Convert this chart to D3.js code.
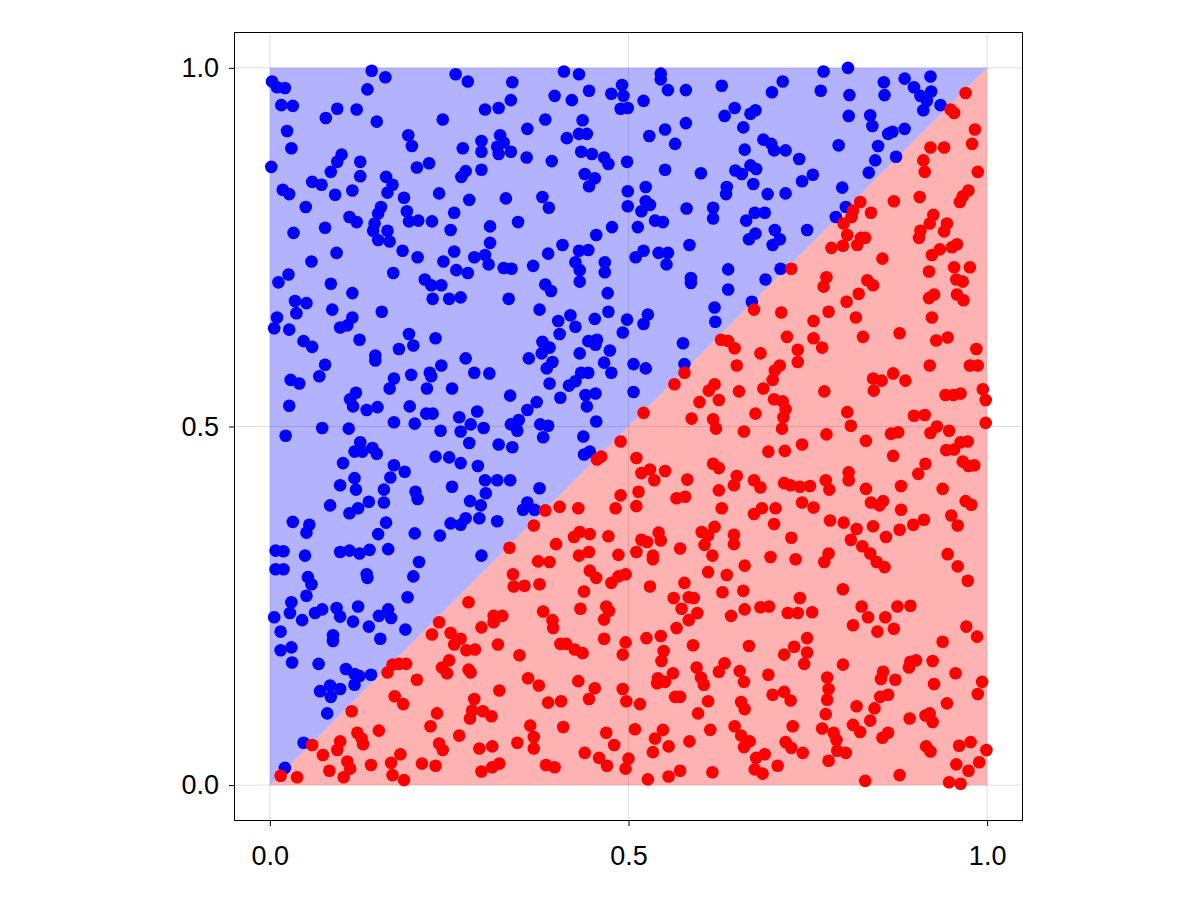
<!DOCTYPE html>
<html><head><meta charset="utf-8">
<script src="https://cdn.jsdelivr.net/npm/d3@7"></script>
<style>body{margin:0;background:#fff} text{font-family:"Liberation Sans",Arial,sans-serif}</style>
</head><body><svg id="chart" width="1200" height="900"></svg>
<script>
const tickValues=[0,0.5,1];
const tickLabels=["0.0","0.5","1.0"];
const upperRegion=[[0,0],[0,1],[1,1]];
const lowerRegion=[[0,0],[1,0],[1,1]];
const bluePoints=[
[0.003,0.981],[0.010,0.973],[0.021,0.972],[0.142,0.996],[0.161,0.987],[0.136,0.970],[0.016,0.948],[0.032,0.947],[0.094,0.943],[0.121,0.942],[0.078,0.930],[0.149,0.925],[0.024,0.912],[0.193,0.906],[0.198,0.891],[0.030,0.888],[0.100,0.879],[0.094,0.869],[0.126,0.869],[0.002,0.862],[0.085,0.855],[0.205,0.861],[0.222,0.867],[0.126,0.849],[0.162,0.848],[0.171,0.837],[0.059,0.841],[0.072,0.837],[0.018,0.830],[0.027,0.824],[0.091,0.823],[0.115,0.829],[0.164,0.826],[0.187,0.819],[0.155,0.806],[0.151,0.797],[0.050,0.806],[0.191,0.800],[0.194,0.786],[0.207,0.787],[0.226,0.786],[0.111,0.792],[0.121,0.785],[0.146,0.783],[0.144,0.773],[0.164,0.773],[0.151,0.760],[0.167,0.758],[0.033,0.770],[0.077,0.777],[0.093,0.742],[0.185,0.745],[0.206,0.736],[0.058,0.730],[0.172,0.714],[0.026,0.712],[0.012,0.701],[0.085,0.699],[0.115,0.686],[0.216,0.705],[0.225,0.697],[0.239,0.697],[0.227,0.678],[0.035,0.675],[0.051,0.672],[0.241,0.928],[0.236,0.825],[0.242,0.730],
[0.259,0.991],[0.276,0.981],[0.338,0.980],[0.410,0.995],[0.431,0.991],[0.445,0.968],[0.397,0.961],[0.421,0.955],[0.336,0.955],[0.300,0.942],[0.319,0.944],[0.476,0.964],[0.491,0.976],[0.493,0.961],[0.489,0.943],[0.499,0.944],[0.384,0.928],[0.436,0.927],[0.359,0.915],[0.414,0.902],[0.431,0.908],[0.442,0.908],[0.269,0.888],[0.295,0.898],[0.321,0.906],[0.326,0.896],[0.317,0.890],[0.295,0.883],[0.319,0.880],[0.336,0.883],[0.358,0.875],[0.393,0.870],[0.434,0.883],[0.449,0.880],[0.466,0.875],[0.472,0.866],[0.498,0.869],[0.273,0.856],[0.267,0.848],[0.295,0.858],[0.439,0.852],[0.453,0.846],[0.445,0.835],[0.329,0.818],[0.278,0.816],[0.380,0.820],[0.389,0.805],[0.499,0.828],[0.499,0.807],[0.257,0.798],[0.252,0.774],[0.307,0.779],[0.346,0.785],[0.307,0.756],[0.477,0.778],[0.455,0.767],[0.408,0.753],[0.257,0.744],[0.285,0.736],[0.300,0.739],[0.305,0.726],[0.326,0.721],[0.337,0.720],[0.367,0.724],[0.388,0.741],[0.431,0.745],[0.444,0.746],[0.426,0.729],[0.432,0.718],[0.467,0.729],[0.467,0.715],[0.432,0.702],[0.260,0.718],[0.276,0.714],[0.384,0.698],[0.392,0.689],[0.471,0.686],[0.266,0.680],[0.333,0.678],[0.250,0.678],
[0.545,0.992],[0.545,0.984],[0.555,0.969],[0.580,0.969],[0.630,0.975],[0.715,0.981],[0.700,0.966],[0.521,0.954],[0.648,0.944],[0.634,0.933],[0.670,0.936],[0.677,0.941],[0.580,0.923],[0.551,0.914],[0.529,0.905],[0.660,0.917],[0.565,0.894],[0.688,0.900],[0.699,0.894],[0.703,0.885],[0.719,0.885],[0.662,0.886],[0.738,0.873],[0.551,0.858],[0.601,0.853],[0.649,0.857],[0.658,0.852],[0.670,0.864],[0.678,0.859],[0.674,0.838],[0.757,0.851],[0.742,0.842],[0.524,0.834],[0.637,0.834],[0.636,0.824],[0.694,0.824],[0.719,0.825],[0.524,0.814],[0.530,0.809],[0.518,0.800],[0.581,0.804],[0.618,0.805],[0.618,0.790],[0.676,0.798],[0.690,0.798],[0.664,0.787],[0.537,0.787],[0.548,0.785],[0.513,0.778],[0.704,0.774],[0.711,0.761],[0.701,0.753],[0.677,0.769],[0.668,0.761],[0.749,0.774],[0.585,0.753],[0.521,0.745],[0.510,0.736],[0.542,0.742],[0.555,0.742],[0.553,0.726],[0.639,0.719],[0.587,0.707],[0.587,0.700],[0.639,0.691],[0.691,0.705],[0.712,0.720],[0.672,0.674],
[0.772,0.995],[0.806,1.000],[0.768,0.968],[0.808,0.962],[0.856,0.980],[0.857,0.962],[0.885,0.985],[0.898,0.973],[0.921,0.988],[0.907,0.961],[0.922,0.967],[0.916,0.954],[0.911,0.941],[0.935,0.948],[0.807,0.933],[0.837,0.934],[0.840,0.919],[0.862,0.908],[0.868,0.911],[0.885,0.915],[0.793,0.892],[0.848,0.891],[0.873,0.876],[0.844,0.871],[0.835,0.854],[0.798,0.833],[0.803,0.806],[0.789,0.792],
[0.037,0.658],[0.087,0.663],[0.156,0.660],[0.010,0.652],[0.006,0.637],[0.027,0.635],[0.098,0.638],[0.108,0.641],[0.115,0.652],[0.125,0.621],[0.047,0.619],[0.059,0.611],[0.194,0.629],[0.200,0.613],[0.180,0.608],[0.231,0.623],[0.147,0.599],[0.147,0.592],[0.077,0.586],[0.069,0.570],[0.029,0.565],[0.041,0.560],[0.173,0.567],[0.167,0.553],[0.197,0.572],[0.223,0.575],[0.225,0.570],[0.219,0.553],[0.239,0.585],[0.120,0.547],[0.112,0.538],[0.116,0.528],[0.135,0.523],[0.150,0.527],[0.027,0.529],[0.195,0.528],[0.218,0.518],[0.227,0.518],[0.173,0.506],[0.202,0.504],[0.073,0.498],[0.110,0.497],[0.022,0.487],[0.238,0.494],[0.126,0.478],[0.118,0.465],[0.129,0.465],[0.143,0.470],[0.149,0.462],[0.102,0.449],[0.231,0.458],[0.173,0.446],[0.188,0.437],[0.168,0.429],[0.118,0.428],[0.120,0.412],[0.098,0.418],[0.159,0.412],[0.203,0.409],[0.206,0.399],[0.159,0.394],[0.138,0.395],[0.084,0.390],[0.111,0.379],[0.123,0.386],[0.032,0.367],[0.055,0.363],[0.051,0.352],[0.162,0.366],[0.151,0.350],[0.202,0.351],[0.237,0.348],
[0.376,0.663],[0.402,0.647],[0.419,0.655],[0.426,0.639],[0.453,0.650],[0.472,0.660],[0.498,0.649],[0.492,0.631],[0.404,0.629],[0.380,0.618],[0.390,0.610],[0.379,0.602],[0.444,0.619],[0.456,0.621],[0.454,0.614],[0.474,0.606],[0.432,0.602],[0.273,0.595],[0.361,0.595],[0.394,0.590],[0.386,0.581],[0.466,0.589],[0.476,0.575],[0.285,0.575],[0.306,0.574],[0.434,0.575],[0.444,0.575],[0.390,0.560],[0.417,0.557],[0.426,0.563],[0.254,0.553],[0.335,0.543],[0.372,0.534],[0.359,0.523],[0.405,0.540],[0.440,0.544],[0.454,0.546],[0.442,0.528],[0.264,0.513],[0.289,0.521],[0.280,0.503],[0.266,0.493],[0.298,0.498],[0.336,0.503],[0.347,0.509],[0.345,0.494],[0.377,0.503],[0.388,0.501],[0.381,0.485],[0.455,0.507],[0.278,0.477],[0.319,0.475],[0.338,0.471],[0.437,0.486],[0.250,0.457],[0.266,0.449],[0.290,0.445],[0.438,0.461],[0.446,0.465],[0.300,0.425],[0.317,0.425],[0.335,0.425],[0.254,0.416],[0.376,0.414],[0.301,0.407],[0.279,0.396],[0.294,0.390],[0.359,0.394],[0.353,0.384],[0.369,0.384],[0.273,0.372],[0.266,0.363],[0.252,0.365],[0.292,0.372],[0.317,0.368],
[0.527,0.656],[0.521,0.643],[0.620,0.666],[0.621,0.646],[0.576,0.616],[0.507,0.587],[0.524,0.581],[0.578,0.587],[0.507,0.548],
[0.008,0.327],[0.019,0.326],[0.049,0.320],[0.098,0.325],[0.111,0.327],[0.125,0.323],[0.139,0.328],[0.165,0.329],[0.008,0.301],[0.019,0.301],[0.208,0.311],[0.200,0.291],[0.053,0.290],[0.058,0.280],[0.135,0.294],[0.136,0.289],[0.051,0.264],[0.192,0.262],[0.030,0.255],[0.028,0.240],[0.006,0.234],[0.045,0.230],[0.063,0.240],[0.073,0.245],[0.093,0.247],[0.098,0.235],[0.123,0.249],[0.116,0.228],[0.138,0.221],[0.152,0.236],[0.165,0.245],[0.169,0.233],[0.015,0.214],[0.088,0.209],[0.088,0.201],[0.154,0.204],[0.189,0.217],[0.015,0.188],[0.030,0.192],[0.031,0.171],[0.068,0.169],[0.106,0.162],[0.118,0.155],[0.125,0.152],[0.141,0.154],[0.118,0.140],[0.070,0.131],[0.084,0.139],[0.098,0.134],[0.085,0.123],[0.080,0.100],[0.047,0.059],[0.021,0.024],
[0.295,0.320]
];
const redPoints=[
[0.727,0.720],
[0.970,0.965],[0.949,0.942],[0.954,0.937],[0.983,0.914],[0.979,0.894],[0.921,0.889],[0.940,0.889],[0.911,0.871],[0.913,0.855],[0.987,0.855],[0.974,0.829],[0.966,0.821],[0.962,0.813],[0.906,0.820],[0.870,0.814],[0.823,0.813],[0.813,0.801],[0.811,0.792],[0.838,0.798],[0.800,0.783],[0.805,0.767],[0.824,0.763],[0.830,0.763],[0.819,0.753],[0.799,0.752],[0.783,0.749],[0.854,0.734],[0.925,0.795],[0.920,0.783],[0.944,0.783],[0.940,0.772],[0.907,0.773],[0.905,0.763],[0.958,0.754],[0.951,0.750],[0.934,0.747],[0.923,0.739],[0.919,0.716],[0.954,0.722],[0.976,0.722],[0.776,0.708],[0.772,0.695],[0.833,0.704],[0.841,0.697],[0.821,0.685],[0.804,0.674],[0.957,0.705],[0.966,0.702],[0.958,0.684],[0.967,0.676],[0.926,0.684],[0.919,0.679],
[0.489,0.479],[0.462,0.458],[0.456,0.454],[0.489,0.404],[0.482,0.386],[0.404,0.388],[0.430,0.386],[0.384,0.383],[0.368,0.362],[0.432,0.353],[0.424,0.346],[0.446,0.350],[0.472,0.347],[0.399,0.336],[0.334,0.331],
[0.675,0.663],[0.713,0.659],[0.758,0.647],[0.629,0.621],[0.639,0.619],[0.648,0.609],[0.721,0.625],[0.684,0.602],[0.736,0.607],[0.736,0.590],[0.758,0.623],[0.651,0.585],[0.711,0.585],[0.704,0.578],[0.701,0.565],[0.578,0.575],[0.564,0.559],[0.620,0.559],[0.612,0.550],[0.626,0.537],[0.654,0.549],[0.688,0.553],[0.703,0.538],[0.715,0.535],[0.719,0.524],[0.716,0.513],[0.714,0.497],[0.599,0.534],[0.521,0.519],[0.588,0.511],[0.677,0.518],[0.618,0.510],[0.622,0.497],[0.661,0.493],[0.695,0.465],[0.718,0.466],[0.742,0.475],[0.511,0.456],[0.518,0.435],[0.530,0.440],[0.536,0.425],[0.551,0.438],[0.514,0.409],[0.511,0.389],[0.582,0.426],[0.618,0.448],[0.626,0.442],[0.651,0.431],[0.647,0.418],[0.626,0.411],[0.675,0.425],[0.684,0.415],[0.717,0.421],[0.726,0.418],[0.739,0.416],[0.753,0.417],[0.567,0.400],[0.579,0.402],[0.630,0.386],[0.686,0.386],[0.675,0.378],[0.705,0.386],[0.742,0.394],[0.758,0.387],[0.703,0.364],[0.620,0.360],[0.602,0.353],[0.611,0.348],[0.647,0.349],[0.647,0.336],[0.542,0.352],[0.545,0.341],[0.518,0.342],[0.526,0.339],[0.572,0.330],[0.727,0.345],[0.606,0.335],
[0.779,0.660],[0.817,0.652],[0.827,0.625],[0.878,0.630],[0.923,0.652],[0.929,0.620],[0.945,0.624],[0.985,0.608],[0.976,0.585],[0.987,0.585],[0.920,0.585],[0.770,0.610],[0.841,0.567],[0.853,0.564],[0.869,0.574],[0.886,0.564],[0.842,0.550],[0.773,0.549],[0.942,0.544],[0.953,0.544],[0.963,0.546],[0.994,0.552],[0.998,0.537],[0.805,0.520],[0.810,0.501],[0.898,0.515],[0.913,0.516],[0.776,0.489],[0.831,0.480],[0.866,0.490],[0.876,0.492],[0.921,0.491],[0.930,0.500],[0.947,0.494],[0.998,0.505],[0.943,0.467],[0.954,0.468],[0.963,0.478],[0.973,0.479],[0.869,0.459],[0.966,0.451],[0.974,0.445],[0.982,0.446],[0.914,0.448],[0.904,0.434],[0.807,0.436],[0.807,0.425],[0.775,0.425],[0.780,0.412],[0.831,0.413],[0.880,0.417],[0.938,0.413],[0.838,0.394],[0.850,0.390],[0.855,0.396],[0.880,0.384],[0.970,0.396],[0.978,0.391],[0.950,0.376],[0.959,0.362],[0.781,0.369],[0.800,0.366],[0.818,0.357],[0.810,0.342],[0.841,0.361],[0.859,0.346],[0.878,0.356],[0.897,0.363],[0.912,0.370],[0.826,0.333],
[0.236,0.227],[0.226,0.210],[0.171,0.168],[0.180,0.169],[0.190,0.169],[0.164,0.157],[0.205,0.147],[0.240,0.164],[0.174,0.124],[0.186,0.113],[0.233,0.100],[0.224,0.082],[0.114,0.103],[0.152,0.076],[0.122,0.073],[0.128,0.065],[0.130,0.057],[0.098,0.061],[0.094,0.049],[0.059,0.056],[0.074,0.042],[0.108,0.033],[0.112,0.023],[0.083,0.020],[0.103,0.011],[0.141,0.028],[0.169,0.031],[0.182,0.043],[0.171,0.014],[0.187,0.007],[0.212,0.030],[0.231,0.027],[0.236,0.058],[0.241,0.049],[0.015,0.013],[0.038,0.011],
[0.374,0.312],[0.390,0.311],[0.339,0.294],[0.340,0.277],[0.355,0.278],[0.376,0.280],[0.277,0.255],[0.312,0.236],[0.324,0.236],[0.312,0.227],[0.295,0.220],[0.381,0.242],[0.394,0.230],[0.395,0.219],[0.252,0.212],[0.266,0.204],[0.257,0.196],[0.274,0.188],[0.286,0.189],[0.318,0.196],[0.348,0.181],[0.405,0.197],[0.413,0.197],[0.425,0.189],[0.436,0.184],[0.250,0.174],[0.247,0.156],[0.277,0.161],[0.280,0.157],[0.320,0.132],[0.360,0.149],[0.375,0.139],[0.388,0.115],[0.406,0.117],[0.430,0.145],[0.453,0.135],[0.445,0.120],[0.285,0.120],[0.282,0.104],[0.297,0.103],[0.309,0.096],[0.279,0.093],[0.363,0.083],[0.368,0.067],[0.368,0.051],[0.409,0.081],[0.264,0.069],[0.345,0.059],[0.292,0.051],[0.310,0.054],[0.295,0.019],[0.310,0.025],[0.320,0.030],[0.385,0.028],[0.397,0.025],[0.439,0.045],[0.459,0.038],[0.470,0.027],[0.469,0.073],[0.480,0.056],[0.431,0.320],[0.445,0.325],[0.486,0.321],[0.446,0.299],[0.455,0.289],[0.476,0.282],[0.486,0.291],[0.496,0.294],[0.438,0.270],[0.433,0.246],[0.469,0.249],[0.473,0.243],[0.466,0.231],[0.466,0.204],[0.496,0.199],[0.492,0.182],[0.492,0.134],[0.497,0.117],[0.500,0.037],[0.496,0.023],
[0.511,0.325],[0.534,0.320],[0.534,0.315],[0.617,0.320],[0.662,0.306],[0.698,0.318],[0.733,0.315],[0.611,0.297],[0.637,0.293],[0.530,0.277],[0.578,0.282],[0.563,0.261],[0.584,0.262],[0.591,0.261],[0.574,0.246],[0.584,0.230],[0.596,0.240],[0.567,0.219],[0.631,0.269],[0.660,0.271],[0.643,0.236],[0.662,0.245],[0.684,0.248],[0.696,0.249],[0.722,0.240],[0.736,0.240],[0.756,0.241],[0.739,0.261],[0.525,0.205],[0.545,0.208],[0.590,0.195],[0.668,0.194],[0.749,0.205],[0.731,0.193],[0.717,0.182],[0.749,0.185],[0.745,0.169],[0.549,0.187],[0.546,0.173],[0.562,0.156],[0.541,0.149],[0.540,0.142],[0.551,0.144],[0.595,0.164],[0.601,0.150],[0.605,0.140],[0.634,0.170],[0.626,0.158],[0.655,0.159],[0.661,0.144],[0.695,0.154],[0.701,0.126],[0.717,0.130],[0.726,0.118],[0.565,0.123],[0.572,0.123],[0.611,0.117],[0.657,0.116],[0.662,0.106],[0.597,0.100],[0.516,0.113],[0.509,0.078],[0.548,0.077],[0.537,0.065],[0.556,0.054],[0.534,0.046],[0.585,0.061],[0.614,0.077],[0.648,0.082],[0.657,0.069],[0.669,0.061],[0.661,0.053],[0.719,0.060],[0.727,0.052],[0.743,0.045],[0.729,0.082],[0.678,0.038],[0.690,0.043],[0.676,0.022],[0.687,0.016],[0.708,0.027],[0.572,0.020],[0.556,0.012],[0.527,0.008],[0.617,0.018],
[0.779,0.323],[0.773,0.311],[0.837,0.323],[0.846,0.311],[0.857,0.304],[0.945,0.322],[0.959,0.305],[0.973,0.285],[0.799,0.273],[0.825,0.249],[0.834,0.234],[0.813,0.223],[0.847,0.214],[0.858,0.234],[0.870,0.218],[0.875,0.249],[0.893,0.250],[0.971,0.221],[0.986,0.207],[0.938,0.200],[0.799,0.168],[0.855,0.158],[0.852,0.148],[0.872,0.147],[0.891,0.164],[0.893,0.172],[0.901,0.174],[0.924,0.173],[0.956,0.156],[0.926,0.141],[0.993,0.144],[0.987,0.127],[0.777,0.150],[0.779,0.134],[0.777,0.119],[0.775,0.099],[0.818,0.110],[0.843,0.107],[0.837,0.090],[0.851,0.123],[0.862,0.126],[0.813,0.084],[0.823,0.074],[0.770,0.079],[0.786,0.073],[0.790,0.063],[0.791,0.048],[0.803,0.045],[0.779,0.034],[0.854,0.066],[0.862,0.073],[0.892,0.093],[0.914,0.097],[0.920,0.100],[0.924,0.088],[0.944,0.114],[0.915,0.054],[0.921,0.047],[0.961,0.055],[0.977,0.060],[0.999,0.049],[0.989,0.032],[0.974,0.020],[0.957,0.029],[0.830,0.006],[0.878,0.014],[0.947,0.004],[0.963,0.002]
];

const svg=d3.select("#chart");
const plotLeft=234, plotRight=1023, plotTop=32, plotBottom=821;
const x=d3.scaleLinear().domain([-0.05,1.05]).range([plotLeft,plotRight]);
const y=d3.scaleLinear().domain([-0.05,1.05]).range([plotBottom,plotTop]);

// grid
const grid=svg.append("g");
grid.selectAll("line.gx").data(tickValues).join("line")
  .attr("x1",d=>x(d)).attr("x2",d=>x(d)).attr("y1",plotTop).attr("y2",plotBottom)
  .attr("stroke","rgba(0,0,0,0.12)").attr("stroke-width",1);
grid.selectAll("line.gy").data(tickValues).join("line")
  .attr("y1",d=>y(d)).attr("y2",d=>y(d)).attr("x1",plotLeft).attr("x2",plotRight)
  .attr("stroke","rgba(0,0,0,0.12)").attr("stroke-width",1);

// regions
const line=d3.line().x(d=>x(d[0])).y(d=>y(d[1]));
svg.append("path").attr("d",line(upperRegion)+"Z").attr("fill","rgba(0,0,255,0.3)");
svg.append("path").attr("d",line(lowerRegion)+"Z").attr("fill","rgba(255,0,0,0.3)");

// points
const r=6.3;
svg.append("g").selectAll("circle").data(bluePoints).join("circle")
  .attr("cx",d=>x(d[0])).attr("cy",d=>y(d[1])).attr("r",r).attr("fill","#0000ff");
svg.append("g").selectAll("circle").data(redPoints).join("circle")
  .attr("cx",d=>x(d[0])).attr("cy",d=>y(d[1])).attr("r",r).attr("fill","#ff0000");

// frame
svg.append("rect").attr("x",plotLeft+0.5).attr("y",plotTop+0.5)
  .attr("width",plotRight-plotLeft-1).attr("height",plotBottom-plotTop-1)
  .attr("fill","none").attr("stroke","#000").attr("stroke-width",1);

// axes
const fmt=(d,i)=>tickLabels[i];
const xAxis=d3.axisBottom(x).tickValues(tickValues).tickFormat(fmt).tickSize(5).tickSizeOuter(0).tickPadding(20);
const yAxis=d3.axisLeft(y).tickValues(tickValues).tickFormat(fmt).tickSize(5).tickSizeOuter(0).tickPadding(10);
const gx=svg.append("g").attr("transform",`translate(0,${plotBottom})`).call(xAxis);
const gy=svg.append("g").attr("transform",`translate(${plotLeft},0)`).call(yAxis);
[gx,gy].forEach(g=>{
  g.select(".domain").remove();
  g.selectAll(".tick line").attr("stroke","#000");
  g.selectAll(".tick text").attr("fill","#000").style("font-size","27px").style("font-family","'Liberation Sans',Arial,sans-serif");
});
</script></body></html>
